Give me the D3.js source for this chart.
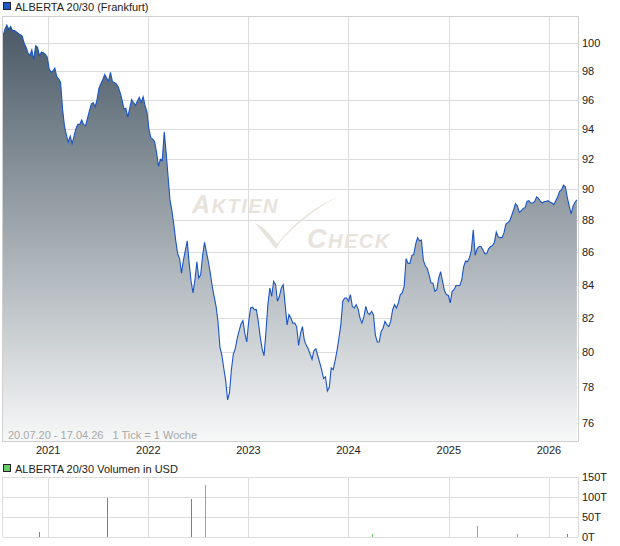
<!DOCTYPE html>
<html>
<head>
<meta charset="utf-8">
<script src="https://cdn.jsdelivr.net/npm/d3@7"></script>
<style>
  body { margin: 0; background: #fff; }
  text { font-family: "Liberation Sans", Arial, sans-serif; font-size: 11px; fill: #222; }
</style>
</head>
<body>
<svg width="620" height="546"></svg>
<script>
    // weekly closes, one per week from startDate
    var startDate = "2020-07-20";
    var endDate = "2026-04-17";
    var prices = [
        100.5, 101.0, 101.3, 101.0, 101.2, 100.9, 100.9, 100.8, 100.7, 100.6,
        100.5, 100.0, 99.7, 99.3, 99.1, 99.5, 98.8, 99.8, 99.7, 99.1,
        99.35, 99.3, 99.2, 99.0, 98.2, 97.9, 98.0, 98.2, 97.6, 97.45,
        97.2, 95.4, 94.2, 93.6, 93.1, 93.5, 93.0, 93.5, 94.0, 94.3,
        94.3, 94.6, 94.3, 94.2, 94.7, 95.2, 95.7, 95.8, 95.5, 96.0,
        96.8, 97.1, 97.4, 97.75, 97.5, 97.3, 97.9, 97.25, 97.2, 97.1,
        96.9, 96.5, 96.0, 95.35, 95.4, 94.8, 95.4, 96.0, 95.8, 95.6,
        95.9, 96.15, 95.8, 96.2, 95.6, 95.15, 94.0, 93.4, 93.3, 93.15,
        92.4, 91.5, 91.95, 91.9, 93.8, 92.4, 90.8, 89.3, 88.6, 87.7,
        86.7, 85.9, 85.6, 84.7, 85.5, 86.1, 86.7, 85.3, 84.2, 83.5,
        84.3, 85.4, 84.4, 84.6, 85.8, 86.6, 86.0, 85.4, 84.7, 83.9,
        83.3, 82.7, 81.8, 80.3, 79.85, 79.1, 78.4, 77.3, 77.7, 79.0,
        79.9, 80.2, 80.8, 81.25, 81.65, 81.85, 81.1, 80.6, 81.8, 82.6,
        82.65, 82.5, 82.5, 81.8, 80.9, 80.2, 79.8, 81.2, 82.8, 83.8,
        83.3, 84.2, 84.0, 83.0, 83.3, 83.8, 84.0, 82.8, 81.6, 82.2,
        82.0, 81.7, 81.7, 81.5, 80.4, 81.1, 81.5, 80.7, 80.4, 80.2,
        79.9, 79.6, 80.1, 80.2, 79.8, 79.4, 79.0, 78.5, 78.6, 77.8,
        78.0, 79.1, 79.0, 79.5, 80.1, 80.8, 81.6, 83.0, 83.2, 83.2,
        83.0, 83.4, 82.7, 82.6, 82.8, 82.55, 82.0, 81.7, 82.05, 82.7,
        82.3, 82.2, 82.4, 82.2, 81.0, 80.6, 80.6, 81.2, 81.4, 81.8,
        81.6, 81.5, 81.8, 82.5, 82.8, 82.6, 82.9, 83.4, 83.5, 83.9,
        85.6, 85.3, 85.3, 85.8, 85.85, 86.5, 86.9, 86.7, 86.75, 85.5,
        85.15, 85.0, 84.6, 84.1, 84.1, 83.6, 83.7, 84.4, 84.8, 84.2,
        83.65, 83.4, 83.35, 82.9, 83.6, 83.7, 83.95, 83.95, 83.95, 84.3,
        85.1, 85.45, 85.4, 85.65, 86.1, 87.4, 85.8, 86.2, 86.35, 86.35,
        86.15, 85.9, 85.9, 86.2, 86.35, 86.4, 86.6, 87.25, 86.95, 86.9,
        86.9, 87.2, 87.75, 87.85, 87.95, 88.3, 88.65, 89.05, 88.9, 88.5,
        88.6, 88.75, 88.8, 89.2, 89.25, 89.1, 89.1, 89.2, 89.5, 89.4,
        89.2, 89.1, 89.2, 89.2, 89.25, 89.15, 89.1, 89.0, 89.25, 89.5,
        89.85, 89.95, 90.25, 90.15, 89.45, 88.9, 88.4, 88.9, 89.15, 89.3
    ];
    var priceTicks = [76, 78, 80, 82, 84, 86, 88, 90, 92, 94, 96, 98, 100];
    var priceDomain = [75.04, 101.97];
    var years = [2021, 2022, 2023, 2024, 2025, 2026];

    // volume in thousands USD
    var volDates = ["2020-11-27", "2021-08-03", "2022-06-06", "2022-07-27",
                    "2024-03-28", "2025-04-14", "2025-09-05", "2026-03-07"];
    var volValues = [12, 97, 95, 130, 7, 27, 7, 7];
    var volUp = [false, false, false, true, true, true, true, false];
    var volTicks = [0, 50, 100, 150];

    (function() {
    var parse = d3.timeParse("%Y-%m-%d");
    var t0 = parse(startDate);
    var t1 = parse(endDate);
    var data = prices.map(function(v, i) {
        return { date: d3.timeDay.offset(t0, i * 7), value: v };
    });

    var svg = d3.select("svg");
    var left = 3, right = 578;
    var plotTop = 16, plotBottom = 441;
    var vTop = 477, vBottom = 537;

    var x = d3.scaleTime().domain([t0, t1]).range([left, right]);
    var y = d3.scaleLog().domain(priceDomain).range([plotBottom, plotTop]);
    var yv = d3.scaleLinear().domain([0, 150]).range([vBottom, vTop]);

    function yearX(d) { return Math.round(x(new Date(d, 0, 1))) + 0.5; }

    var defs = svg.append("defs");
    var grad = defs.append("linearGradient")
        .attr("id", "fillGrad")
        .attr("gradientUnits", "userSpaceOnUse")
        .attr("x1", 0).attr("y1", plotTop).attr("x2", 0).attr("y2", plotBottom);
    grad.append("stop").attr("offset", "0%").attr("stop-color", "#465663");
    grad.append("stop").attr("offset", "100%").attr("stop-color", "#f7f8f8");
    defs.append("clipPath").attr("id", "plotClip")
        .append("rect").attr("x", left).attr("y", plotTop)
        .attr("width", right - left).attr("height", plotBottom - plotTop);

    // legend
    svg.append("rect").attr("x", 3.5).attr("y", 2.5).attr("width", 7).attr("height", 7)
        .attr("fill", "#1f5bc4").attr("stroke", "#223");
    svg.append("text").attr("x", 15).attr("y", 10.5).text("ALBERTA 20/30 (Frankfurt)");

    // grid
    var grid = svg.append("g").attr("stroke", "#dcdcdc").attr("shape-rendering", "crispEdges");
    grid.selectAll(".hy").data(priceTicks).enter().append("line")
        .attr("x1", left).attr("x2", right)
        .attr("y1", function(d) { return Math.round(y(d)) + 0.5; })
        .attr("y2", function(d) { return Math.round(y(d)) + 0.5; });
    grid.selectAll(".vx").data(years).enter().append("line")
        .attr("y1", plotTop).attr("y2", plotBottom)
        .attr("x1", yearX).attr("x2", yearX);

    // watermark
    var wm = svg.append("g");
    var t1w = wm.append("text").attr("x", 192).attr("y", 213)
        .attr("font-style", "italic").attr("font-weight", "bold")
        .attr("letter-spacing", "1.5").style("fill", "#e8e3dc");
    t1w.append("tspan").attr("font-size", "25px").text("A");
    t1w.append("tspan").attr("font-size", "20px").text("KTIEN");
    var t2w = wm.append("text").attr("x", 307).attr("y", 248)
        .attr("font-style", "italic").attr("font-weight", "bold")
        .attr("letter-spacing", "1.5").style("fill", "#e8e3dc");
    t2w.append("tspan").attr("font-size", "27px").text("C");
    t2w.append("tspan").attr("font-size", "20px").text("HECK");
    wm.append("path").attr("fill", "#e8e3dc")
        .attr("d", "M255,223 C263,226 271,235 277,244 C293,224 313,207 340,196 C317,207 296,224 280,242 L276,249 Z");

    // price area + line
    var plot = svg.append("g").attr("clip-path", "url(#plotClip)");
    plot.append("path").datum(data)
        .attr("fill", "url(#fillGrad)")
        .attr("d", d3.area()
            .x(function(d) { return x(d.date); })
            .y0(plotBottom)
            .y1(function(d) { return y(d.value); }));
    plot.append("path").datum(data)
        .attr("fill", "none").attr("stroke", "#1a55c6").attr("stroke-width", 1.1)
        .attr("d", d3.line()
            .x(function(d) { return x(d.date); })
            .y(function(d) { return y(d.value); }));

    // frame
    svg.append("rect").attr("x", left - 0.5).attr("y", plotTop + 0.5)
        .attr("width", right - left + 1).attr("height", plotBottom - plotTop)
        .attr("fill", "none").attr("stroke", "#d0d0d0").attr("shape-rendering", "crispEdges");

    // price tick labels
    svg.selectAll(".pl").data(priceTicks).enter().append("text")
        .attr("x", 582).attr("y", function(d) { return y(d) + 4; })
        .text(function(d) { return d; });

    // year labels
    svg.selectAll(".yl").data(years).enter().append("text")
        .attr("text-anchor", "middle")
        .attr("x", function(d) { return x(new Date(d, 0, 1)); })
        .attr("y", 453.5)
        .text(function(d) { return d; });

    svg.append("text").attr("x", 8).attr("y", 439).style("fill", "#a8a8a8")
        .text("20.07.20 - 17.04.26\u00a0\u00a0\u00a01 Tick = 1 Woche");

    // volume panel
    svg.append("rect").attr("x", 3.5).attr("y", 464.5).attr("width", 7).attr("height", 7)
        .attr("fill", "#66cc66").attr("stroke", "#223");
    svg.append("text").attr("x", 15).attr("y", 472.5).text("ALBERTA 20/30 Volumen in USD");

    var vgrid = svg.append("g").attr("stroke", "#dcdcdc").attr("shape-rendering", "crispEdges");
    vgrid.selectAll(".vh").data(volTicks).enter().append("line")
        .attr("x1", left).attr("x2", right)
        .attr("y1", function(d) { return Math.round(yv(d)) + 0.5; })
        .attr("y2", function(d) { return Math.round(yv(d)) + 0.5; });
    vgrid.selectAll(".vv").data(years).enter().append("line")
        .attr("y1", vTop).attr("y2", vBottom)
        .attr("x1", yearX).attr("x2", yearX);
    vgrid.append("line").attr("x1", left - 0.5).attr("x2", left - 0.5).attr("y1", vTop).attr("y2", vBottom);
    vgrid.append("line").attr("x1", right + 0.5).attr("x2", right + 0.5).attr("y1", vTop).attr("y2", vBottom);

    svg.append("g").selectAll("rect").data(volValues).enter().append("rect")
        .attr("shape-rendering", "crispEdges")
        .attr("fill", function(d, i) { return volUp[i] ? "#5fcf5f" : "#d95a5a"; })
        .attr("x", function(d, i) { return Math.round(x(parse(volDates[i]))); })
        .attr("width", 1)
        .attr("y", function(d) { return yv(d); })
        .attr("height", function(d) { return vBottom - yv(d); });

    svg.selectAll(".vl").data(volTicks).enter().append("text")
        .attr("x", 582).attr("y", function(d) { return yv(d) + 4; })
        .text(function(d) { return d + "T"; });
    })();
</script>
</body>
</html>
